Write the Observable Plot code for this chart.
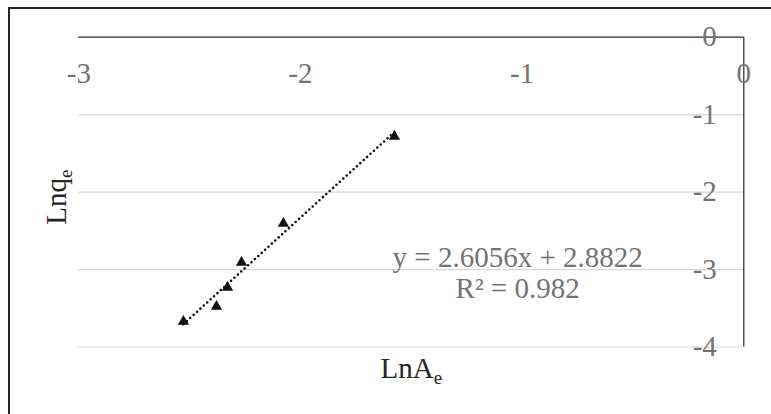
<!DOCTYPE html>
<html><head><meta charset="utf-8">
<script src="https://cdn.jsdelivr.net/npm/d3@7"></script>
<script src="https://cdn.jsdelivr.net/npm/@observablehq/plot@0.6"></script>
<style>
html,body{margin:0;padding:0;background:#fff;overflow:hidden;}
#wrap{position:relative;width:771px;height:414px;overflow:hidden;background:#fff;}
#border{position:absolute;left:8px;top:7px;width:900px;height:600px;border-left:2px solid #262626;border-top:2px solid #262626;}
#chart{position:absolute;left:0;top:0;}
</style></head><body>
<div id="wrap"><div id="border"></div><div id="chart"></div></div>
<script>
// Data
const lnA = [-2.528, -2.379, -2.329, -2.266, -2.077, -1.576];
const lnq = [-3.671, -3.477, -3.232, -2.909, -2.405, -1.282];
// Trendline reported on the chart
const slope = 2.6056;
const intercept = 2.8822;
const r2 = 0.982;
// Axis ticks
const xTicks = [-3, -2, -1, 0];
const yTicks = [0, -1, -2, -3, -4];
const xTitle = "LnAe";
const yTitle = "Lnqe";

const points = lnA.map((x, i) => ({x, y: lnq[i]}));
const xMin = d3.min(lnA), xMax = d3.max(lnA);
const trend = [xMin, xMax].map(x => ({x, y: slope * x + intercept}));
const eqText = `y = ${slope}x + ${intercept}\nR² = ${r2}`;

const FONT = "'Liberation Serif', 'Times New Roman', serif";
const tickColor = "#737373";
const FS = 29;

const chart = Plot.plot({
  width: 771,
  height: 414,
  marginLeft: 78.3,
  marginRight: 27.7,
  marginTop: 36.7,
  marginBottom: 67.5,
  style: {fontFamily: FONT, background: "transparent"},
  x: {domain: [-3, 0], axis: null},
  y: {domain: [-4, 0], axis: null},
  marks: [
    Plot.ruleY(yTicks.filter(d => d !== 0), {stroke: "#d9d9d9", strokeWidth: 1.2}),
    Plot.ruleY([0], {stroke: "#262626", strokeWidth: 1.2}),
    Plot.ruleX([0], {stroke: "#262626", strokeWidth: 1.2}),
    Plot.line(trend, {x: "x", y: "y", stroke: "#111", strokeWidth: 2.6, strokeDasharray: "0,4.6", strokeLinecap: "round"}),
    Plot.dot(points, {x: "x", y: "y", symbol: "triangle", r: 4.2, fill: "#111", stroke: "none"}),
    Plot.text(xTicks, {x: d => d, frameAnchor: "top", lineAnchor: "middle", dy: 37, text: d => String(d), fontSize: FS, fill: tickColor}),
    Plot.text(yTicks, {y: d => d, frameAnchor: "right", lineAnchor: "middle", dx: -27, textAnchor: "end", text: d => String(d), fontSize: FS, fill: tickColor}),
    Plot.text([eqText], {x: -1.02, y: -3.04, text: d => d, fontSize: FS, fill: tickColor, lineHeight: 1.08}),
    Plot.text([xTitle], {frameAnchor: "bottom", lineAnchor: "middle", textAnchor: "middle", dy: 22, text: d => d, fontSize: FS, fill: "#262626"}),
    Plot.text([yTitle], {frameAnchor: "left", lineAnchor: "middle", textAnchor: "middle", dx: -22, dy: 5, rotate: -90, text: d => d, fontSize: FS, fill: "#262626"})
  ]
});

// subscripts for axis titles
chart.querySelectorAll("text").forEach(t => {
  const s = t.textContent;
  if (s === xTitle || s === yTitle) {
    t.textContent = "";
    const main = document.createElementNS("http://www.w3.org/2000/svg", "tspan");
    main.textContent = s.slice(0, -1);
    const sub = document.createElementNS("http://www.w3.org/2000/svg", "tspan");
    sub.textContent = s.slice(-1);
    sub.setAttribute("font-size", "19");
    sub.setAttribute("dy", "6");
    t.appendChild(main);
    t.appendChild(sub);
  }
});

document.getElementById("chart").appendChild(chart);
</script>
</body></html>
